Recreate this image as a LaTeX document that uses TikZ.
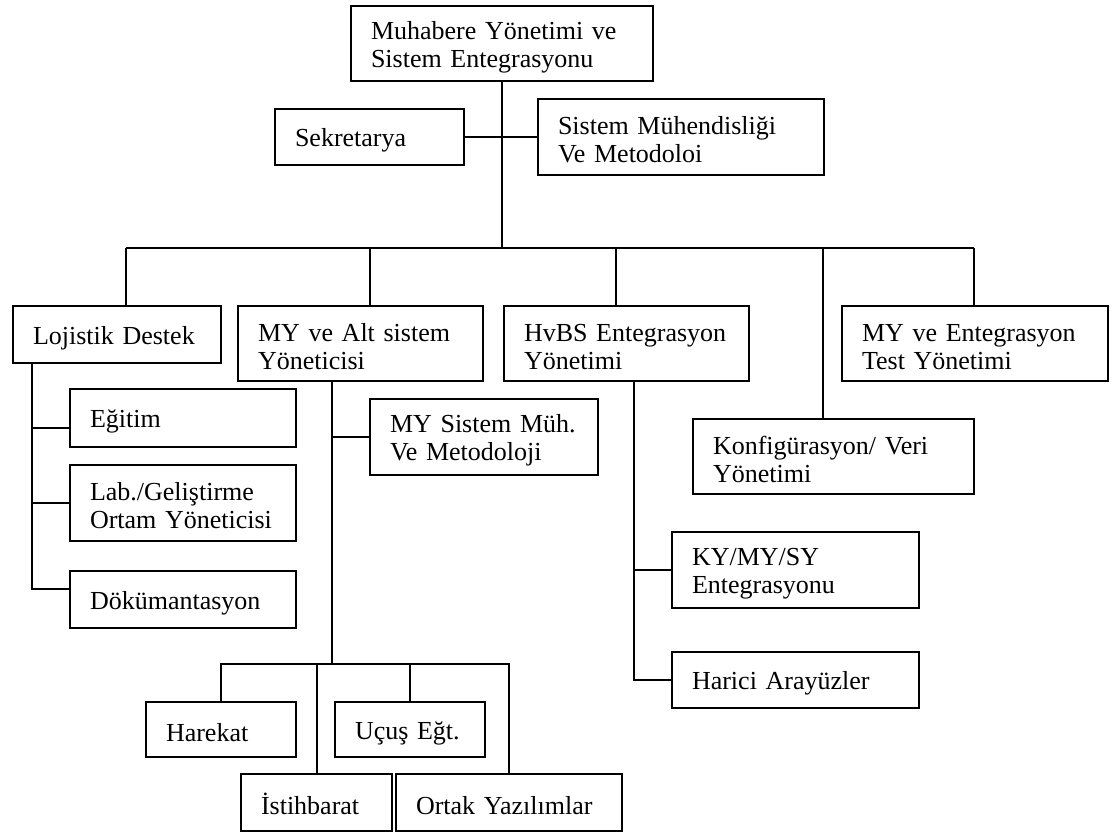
\documentclass[tikz,border=0pt]{standalone}
\usepackage{fontspec}
\setmainfont{Liberation Serif}
\usetikzlibrary{positioning, calc}

\begin{document}
\begin{tikzpicture}[
    x=1pt, y=-1pt,
    font=\fontsize{26}{28}\selectfont,
    unit/.style={
        draw,
        line width=2pt,
        anchor=north west,
        align=left,
        inner xsep=20pt,
        inner ysep=0pt,
        execute at begin node=\rule{0pt}{25pt},
        execute at end node=\rule[-2pt]{0pt}{2pt}
    },
    link/.style={line width=2pt}
]

\useasboundingbox (0,0) rectangle (1120,833);

% Top level
\node[unit, text width=262pt, minimum height=75pt] (top) at (350,5) {
    Muhabere Yönetimi ve\\
    Sistem Entegrasyonu
};
\node[unit, text width=149pt, minimum height=56pt] (sek) at (274,108) {Sekretarya};
\node[unit, text width=246pt, minimum height=76pt] (sism) at (537,98) {
    Sistem Mühendisliği\\
    Ve Metodoloi
};

% Second level
\node[unit, text width=168pt, minimum height=57pt] (lojistik) at (12,305) {Lojistik Destek};
\node[unit, text width=205pt, minimum height=75pt] (myalt) at (237,305) {
    MY ve Alt sistem\\
    Yöneticisi
};
\node[unit, text width=205pt, minimum height=75pt] (hvbs) at (503,305) {
    HvBS Entegrasyon\\
    Yönetimi
};
\node[unit, text width=226pt, minimum height=75pt] (mytest) at (841,305) {
    MY ve Entegrasyon\\
    Test Yönetimi
};
\node[unit, text width=241pt, minimum height=75pt] (konf) at (692,418) {
    Konfigürasyon/ Veri\\
    Yönetimi
};

% Lojistik branch
\node[unit, text width=186pt, minimum height=58pt] (egitim) at (69,388) {Eğitim};
\node[unit, text width=186pt, minimum height=76pt] (lab) at (69,464) {
    Lab./Geliştirme\\
    Ortam Yöneticisi
};
\node[unit, text width=186pt, minimum height=57pt] (dok) at (69,570) {Dökümantasyon};

% MY ve Alt sistem branch
\node[unit, text width=188pt, minimum height=76pt] (mysis) at (369,398) {
    MY Sistem Müh.\\
    Ve Metodoloji
};
\node[unit, text width=110pt, minimum height=55pt] (harekat) at (145,701) {Harekat};
\node[unit, text width=110pt, minimum height=55pt] (ucus) at (334,701) {Uçuş Eğt.};
\node[unit, text width=111pt, minimum height=57pt] (istih) at (240,773) {İstihbarat};
\node[unit, text width=186pt, minimum height=57pt] (ortak) at (395,773) {Ortak Yazılımlar};

% HvBS branch
\node[unit, text width=207pt, minimum height=76pt] (kymysy) at (671,531) {
    KY/MY/SY\\
    Entegrasyonu
};
\node[unit, text width=207pt, minimum height=56pt] (harici) at (671,651) {Harici Arayüzler};

% Connectors
\draw[link] (sek.east) -- (sism.west);
\foreach \n/\x in {lojistik/126, myalt/370, hvbs/616, konf/823, mytest/974} {
    \coordinate (d-\n) at (\x,248);
    \draw[link] (d-\n) -- (d-\n |- \n.north);
}
\draw[link] (d-lojistik) -- (d-mytest);
\draw[link] (top.south) -- (top.south |- d-lojistik);

\coordinate (lsp) at (32,0);
\coordinate (egw) at ([yshift=-10pt]egitim.west);
\coordinate (dkw) at ([yshift=11pt]dok.west);
\draw[link] (lojistik.south -| lsp) |- (dkw);
\draw[link] (lsp |- egw) -- (egw);
\draw[link] (lsp |- lab.west) -- (lab.west);

\coordinate (msp) at (332,664);
\draw[link] (myalt.south -| msp) -- (msp);
\draw[link] (msp |- mysis.west) -- (mysis.west);
\draw[link] (harekat.north) |- (msp) -| (ortak.north);
\draw[link] (istih.north) -- (istih.north |- msp);
\draw[link] (ucus.north) -- (ucus.north |- msp);

\coordinate (hsp) at (634,0);
\draw[link] (hvbs.south -| hsp) |- (harici.west);
\draw[link] (hsp |- kymysy.west) -- (kymysy.west);

\end{tikzpicture}
\end{document}
